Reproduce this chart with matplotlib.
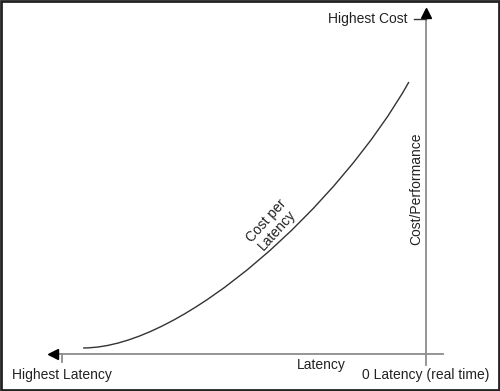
import matplotlib
matplotlib.use('Agg')
import matplotlib.pyplot as plt
from matplotlib.patches import Rectangle, PathPatch
from matplotlib.path import Path

# curve: cost per latency as a cubic Bezier (x: towards 0 latency, y: cost/performance), 0..100 units
curve_x = [5.8, 33.7, 76.6, 95.3]
curve_y = [1.8, 1.8, 45.1, 81.2]

x_labels = ['Highest Latency', 'Latency', '0 Latency (real time)']
y_labels = ['Highest Cost', 'Cost/Performance']
curve_label = 'Cost per\nLatency'

plt.rcParams['font.family'] = ['Liberation Sans', 'DejaVu Sans']
TXT = '#222222'
AXC = '#8c8c8c'

fig = plt.figure(figsize=(5.0, 3.91), dpi=100)
ax = fig.add_axes([62 / 500, 37 / 391, 364 / 500, 335 / 391])
ax.set_xlim(0, 100)
ax.set_ylim(0, 100)
ax.axis('off')

# axes lines
ax.plot([-2.5, 104.7], [0, 0], color=AXC, lw=1.3, clip_on=False)
ax.plot([100, 100], [-3.3, 101.5], color=AXC, lw=1.3, clip_on=False)
ax.plot([-2.6], [0], marker='<', color='black', markersize=7, clip_on=False)
ax.plot([100], [101.9], marker='^', color='black', markersize=7, clip_on=False)
# ticks
ax.plot([0, 0], [0, -2.4], color=AXC, lw=1.3, clip_on=False)
ax.plot([96.7, 100], [100, 100], color='#333333', lw=1.0, clip_on=False)

verts = list(zip(curve_x, curve_y))
path = Path(verts, [Path.MOVETO, Path.CURVE4, Path.CURVE4, Path.CURVE4])
ax.add_patch(PathPatch(path, facecolor='none', edgecolor='#333333', lw=1.0, clip_on=False))

ax.text(-13.6, -6.3, x_labels[0], ha='left', va='center', fontsize=10, color=TXT, clip_on=False)
ax.text(71.2, -3.3, x_labels[1], ha='center', va='center', fontsize=10, color=TXT, clip_on=False)
ax.text(117.3, -6.3, x_labels[2], ha='right', va='center', fontsize=10, color=TXT, clip_on=False)
ax.text(94.8, 100, y_labels[0], ha='right', va='center', fontsize=10, color=TXT, clip_on=False)
ax.text(97.3, 49.3, y_labels[1], ha='center', va='center', rotation=90, fontsize=10, color=TXT,
        clip_on=False)
ax.text(57.6, 38.4, curve_label, ha='center', va='center', rotation=48, fontsize=10, color=TXT,
        linespacing=1.0, rotation_mode='anchor', clip_on=False)

fig.add_artist(Rectangle((0.002, 0.003), 0.996, 0.994, transform=fig.transFigure,
                         fill=False, edgecolor='#222222', lw=2.0))

fig.savefig('out.png', dpi=100)
